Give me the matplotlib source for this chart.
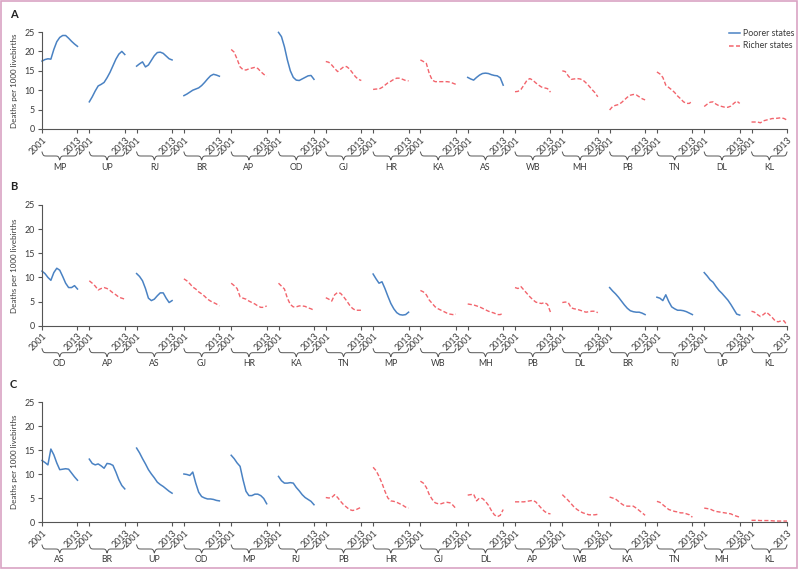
import numpy as np
import matplotlib
matplotlib.use('Agg')
import matplotlib.pyplot as plt
from matplotlib.lines import Line2D
from matplotlib.patches import Rectangle
from matplotlib.transforms import blended_transform_factory

plt.rcParams['font.family'] = ['Lato', 'DejaVu Sans']

W, H = 800, 571
YEARS = np.arange(2001, 2014)
POORER = ['MP', 'UP', 'RJ', 'BR', 'OD', 'AS']
BLUE = '#4a82c3'
RED = '#f2646c'
TXT = '#3a3a3a'

# ---- panel A ------------------------------------------------------------
STATES_A = ['MP', 'UP', 'RJ', 'BR', 'AP', 'OD', 'GJ', 'HR',
            'KA', 'AS', 'WB', 'MH', 'PB', 'TN', 'DL', 'KL']
RATES_A = [
    [17.5, 17.9, 18.1, 18.0, 20.5, 22.5, 23.6, 24.1, 24.1, 23.4, 22.6, 21.9, 21.3],
    [7.0, 8.3, 9.8, 11.1, 11.5, 12.0, 13.2, 14.6, 16.3, 18.0, 19.3, 20.0, 19.2],
    [16.2, 16.8, 17.3, 16.0, 16.5, 17.7, 18.9, 19.7, 19.8, 19.5, 18.8, 18.1, 17.8],
    [8.6, 9.0, 9.5, 10.0, 10.3, 10.6, 11.2, 12.0, 12.9, 13.7, 14.1, 13.9, 13.6],
    [20.5, 19.8, 18.0, 16.0, 15.3, 15.2, 15.5, 15.7, 15.9, 15.6, 14.8, 14.1, 13.6],
    [24.9, 23.8, 21.2, 17.8, 15.0, 13.3, 12.6, 12.5, 12.9, 13.3, 13.7, 13.8, 12.8],
    [17.4, 17.2, 16.5, 15.6, 14.8, 15.4, 16.0, 16.1, 15.5, 14.5, 13.5, 12.8, 12.5],
    [10.2, 10.3, 10.3, 10.7, 11.3, 11.9, 12.3, 12.8, 13.1, 13.1, 12.8, 12.5, 12.4],
    [17.8, 17.4, 16.9, 14.3, 12.6, 12.2, 12.2, 12.2, 12.2, 12.2, 12.1, 11.8, 11.5],
    [13.3, 12.9, 12.6, 13.3, 13.9, 14.3, 14.4, 14.3, 14.0, 13.8, 13.7, 13.2, 11.3],
    [9.6, 9.7, 10.2, 11.3, 12.5, 13.0, 12.6, 11.9, 11.3, 10.8, 10.6, 10.4, 9.5],
    [15.0, 14.8, 13.7, 12.8, 12.9, 13.0, 12.9, 12.6, 11.9, 11.1, 10.2, 9.4, 8.3],
    [4.9, 5.8, 6.1, 6.3, 6.8, 7.5, 8.2, 8.7, 8.9, 8.8, 8.3, 7.8, 7.5],
    [14.7, 14.2, 13.3, 11.3, 10.7, 10.1, 9.4, 8.5, 7.8, 7.0, 6.6, 6.6, 7.3],
    [5.8, 6.4, 6.9, 7.0, 6.4, 6.0, 5.8, 5.6, 5.6, 5.9, 6.6, 7.2, 6.6],
    [1.8, 1.8, 1.8, 1.6, 2.1, 2.3, 2.5, 2.7, 2.7, 2.8, 2.9, 2.7, 2.3],
]

# ---- panel B ------------------------------------------------------------
STATES_B = ['OD', 'AP', 'AS', 'GJ', 'HR', 'KA', 'TN', 'MP',
            'WB', 'MH', 'PB', 'DL', 'BR', 'RJ', 'UP', 'KL']
RATES_B = [
    [11.3, 10.8, 10.0, 9.4, 11.0, 11.9, 11.5, 10.2, 8.8, 7.9, 7.9, 8.3, 7.6],
    [9.3, 8.8, 8.2, 7.4, 7.7, 7.9, 7.7, 7.3, 6.8, 6.4, 5.9, 5.7, 5.5],
    [10.8, 10.2, 9.3, 7.7, 5.7, 5.2, 5.5, 6.2, 6.8, 6.8, 5.7, 4.8, 5.2],
    [9.7, 9.3, 8.7, 8.0, 7.6, 7.0, 6.6, 6.1, 5.5, 5.1, 4.8, 4.5, 4.1],
    [8.8, 8.3, 7.7, 6.0, 5.7, 5.5, 5.1, 4.8, 4.5, 4.1, 3.8, 3.8, 4.1],
    [8.8, 8.2, 7.6, 5.7, 4.4, 3.9, 3.9, 4.1, 4.1, 4.0, 3.7, 3.5, 3.2],
    [5.8, 5.5, 5.1, 6.4, 6.9, 6.7, 6.0, 5.2, 4.3, 3.6, 3.2, 3.2, 3.2],
    [10.7, 9.7, 8.8, 9.1, 7.7, 6.1, 4.6, 3.5, 2.7, 2.3, 2.2, 2.3, 2.8],
    [7.3, 7.0, 6.4, 5.3, 4.6, 3.9, 3.5, 3.2, 2.9, 2.6, 2.4, 2.3, 2.4],
    [4.5, 4.4, 4.3, 4.1, 3.9, 3.6, 3.3, 3.0, 2.8, 2.6, 2.3, 2.3, 2.6],
    [7.9, 7.7, 8.1, 7.4, 6.7, 6.0, 5.4, 4.9, 4.7, 4.6, 4.8, 4.4, 2.8],
    [4.8, 4.9, 4.8, 3.7, 3.5, 3.4, 3.2, 3.0, 2.8, 2.9, 3.0, 3.0, 2.7],
    [7.9, 7.2, 6.6, 5.9, 5.1, 4.3, 3.6, 3.1, 2.9, 2.8, 2.8, 2.6, 2.3],
    [5.9, 5.7, 5.2, 6.4, 5.0, 3.9, 3.5, 3.2, 3.2, 3.1, 2.9, 2.6, 2.3],
    [11.0, 10.3, 9.5, 9.0, 8.1, 7.3, 6.7, 6.0, 5.3, 4.4, 3.4, 2.4, 2.2],
    [3.0, 2.8, 2.3, 1.9, 2.3, 2.8, 2.3, 1.7, 1.0, 0.8, 1.0, 1.0, 0.1],
]

# ---- panel C ------------------------------------------------------------
STATES_C = ['AS', 'BR', 'UP', 'OD', 'MP', 'RJ', 'PB', 'HR',
            'GJ', 'DL', 'AP', 'WB', 'KA', 'TN', 'MH', 'KL']
RATES_C = [
    [12.8, 12.4, 11.9, 15.2, 14.0, 12.3, 10.9, 11.0, 11.1, 11.0, 10.2, 9.4, 8.7],
    [13.1, 12.2, 11.9, 12.1, 11.7, 11.2, 12.2, 12.1, 11.8, 10.4, 8.8, 7.6, 6.9],
    [15.4, 14.4, 13.2, 12.1, 10.9, 10.0, 9.2, 8.3, 7.8, 7.4, 6.9, 6.4, 6.0],
    [10.0, 9.9, 9.7, 10.4, 8.1, 6.2, 5.3, 5.0, 4.8, 4.8, 4.7, 4.5, 4.4],
    [13.9, 13.2, 12.3, 11.6, 8.8, 6.4, 5.5, 5.5, 5.8, 5.8, 5.5, 4.9, 3.8],
    [9.5, 8.6, 8.1, 8.1, 8.2, 8.1, 7.2, 6.5, 5.7, 5.1, 4.7, 4.3, 3.6],
    [5.1, 5.0, 5.1, 5.7, 5.1, 4.3, 3.6, 3.1, 2.6, 2.4, 2.5, 2.8, 3.1],
    [11.4, 10.7, 9.5, 8.1, 6.4, 5.0, 4.4, 4.3, 4.1, 3.8, 3.5, 3.1, 2.9],
    [8.5, 8.1, 7.2, 5.7, 4.7, 4.0, 3.8, 3.8, 4.0, 4.1, 4.0, 3.5, 2.8],
    [5.6, 5.7, 5.8, 4.4, 5.0, 4.9, 4.3, 3.5, 2.4, 1.5, 1.1, 1.4, 2.6],
    [4.2, 4.2, 4.2, 4.2, 4.3, 4.4, 4.5, 4.2, 3.5, 2.8, 2.2, 1.8, 1.7],
    [5.7, 5.1, 4.5, 3.8, 3.1, 2.6, 2.2, 1.9, 1.7, 1.5, 1.5, 1.5, 1.6],
    [5.2, 5.0, 4.8, 4.3, 3.8, 3.4, 3.3, 3.3, 3.3, 2.9, 2.4, 1.9, 1.4],
    [4.3, 4.1, 3.6, 3.1, 2.6, 2.4, 2.2, 2.1, 1.9, 1.9, 1.7, 1.5, 1.0],
    [2.9, 2.8, 2.7, 2.4, 2.2, 2.1, 2.0, 1.9, 1.8, 1.7, 1.4, 1.2, 1.0],
    [0.35, 0.35, 0.35, 0.3, 0.3, 0.3, 0.3, 0.25, 0.2, 0.2, 0.2, 0.2, 0.2],
]

PANELS = [('A', STATES_A, RATES_A), ('B', STATES_B, RATES_B), ('C', STATES_C, RATES_C)]
# pixel layout: (y of 25, y of 0)
PIX = [(32, 129), (205, 325.7), (402, 522)]
X_LEFT, X_RIGHT = 42, 787
STEP = 16  # 12 years + 4 gap

fig = plt.figure(figsize=(W / 100, H / 100), dpi=100)


def brace(ax, x0, x1, ytop_px, depth_px):
    tr = blended_transform_factory(ax.transData, fig.transFigure)
    xs = np.linspace(x0, x1, 121)
    half = xs[:61]
    beta = 4.5
    yh = 1 / (1 + np.exp(-beta * (half - half[0]))) + 1 / (1 + np.exp(-beta * (half - half[-1])))
    y = np.concatenate([yh, yh[-2::-1]])
    py = ytop_px + (y - 0.5) * depth_px
    ax.plot(xs, 1 - py / H, transform=tr, clip_on=False, color='#555', lw=0.7)


for letter, states, rates in PANELS:
    i = 'ABC'.index(letter)
    ytop, ybot = PIX[i]
    ax = fig.add_axes([X_LEFT / W, 1 - ybot / H, (X_RIGHT - X_LEFT) / W, (ybot - ytop) / H])
    ax.set_xlim(0, STEP * 15 + 12)
    ax.set_ylim(0, 25)
    for s in ['top', 'right']:
        ax.spines[s].set_visible(False)
    for s in ['left', 'bottom']:
        ax.spines[s].set_color('#555')
        ax.spines[s].set_linewidth(0.8)

    ticks, labels = [], []
    for k, (st, vals) in enumerate(zip(states, rates)):
        xs = k * STEP + (YEARS - 2001)
        if st in POORER:
            ax.plot(xs, vals, color=BLUE, lw=1.1, clip_on=False)
        else:
            ax.plot(xs, vals, color=RED, lw=1.0, ls=(0, (3, 1.6)), clip_on=False)
        ticks += [k * STEP, k * STEP + 12]
        labels += ['2001', '2013']
        brace(ax, k * STEP, k * STEP + 12, ybot + 23, 8)
        tr = blended_transform_factory(ax.transData, fig.transFigure)
        ax.text(k * STEP + 6, 1 - (ybot + 38) / H, st, transform=tr, ha='center',
                va='center', fontsize=6.3, color=TXT)

    ax.set_xticks(ticks)
    ax.set_xticklabels(labels, rotation=45, ha='right', va='top',
                       rotation_mode='anchor', fontsize=6.2, color=TXT)
    ax.set_yticks([0, 5, 10, 15, 20, 25])
    ax.tick_params(axis='both', direction='out', length=3, width=0.8, color='#555',
                   labelsize=6.4, labelcolor=TXT, pad=2)
    ax.tick_params(axis='x', pad=1.5)

    fig.text(10 / W, 1 - (ytop - 18) / H, letter, fontsize=8, fontweight='bold',
             color='#222', ha='left', va='center')
    fig.text(14 / W, 1 - (ytop + ybot) / 2 / H, 'Deaths per 1000 livebirths',
             rotation=90, fontsize=5.8, color=TXT, ha='center', va='center')

# legend
for k, (lab, col, ls) in enumerate([('Poorer states', BLUE, '-'),
                                     ('Richer states', RED, (0, (3, 1.6)))]):
    yy = 1 - (33 + k * 12.5) / H
    fig.add_artist(Line2D([729 / W, 740 / W], [yy, yy], color=col, lw=1.1, ls=ls))
    fig.text(743 / W, yy, lab, fontsize=6.3, color=TXT, ha='left', va='center')

# pink frame
fig.add_artist(Rectangle((0.8 / W, 3.5 / H), (W - 3.5) / W, (H - 4.5) / H,
                         transform=fig.transFigure, fill=False, ec='#d9a3c3', lw=1.2))

fig.savefig('out.png', dpi=100, facecolor='white')
